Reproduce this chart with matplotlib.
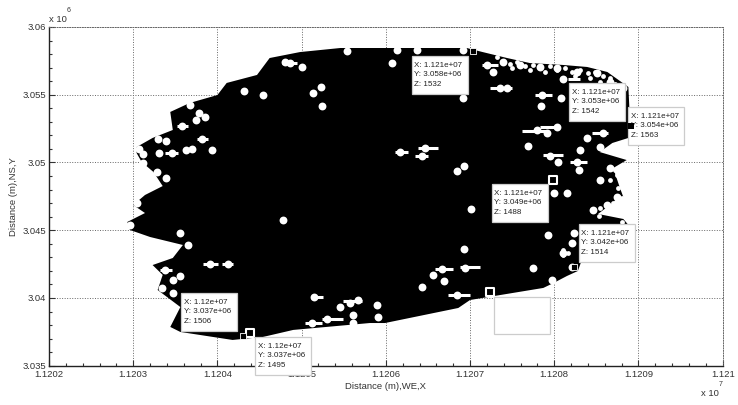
import matplotlib
matplotlib.use('Agg')
import matplotlib.pyplot as plt
from matplotlib.patches import Rectangle

plt.rcParams['font.family'] = ['Liberation Sans', 'DejaVu Sans']

# outline of the measured area (m)
outline_x = [11205810,11205460,11204980,11204620,11204470,11204110,11204000,11203670,11203440,11203470,
             11203230,11203040,11203040,11203100,11203240,11203350,11203140,11203000,11203140,11202930,
             11202960,11203200,11203590,11203470,11203230,11203350,11203290,11203560,11203440,11203560,
             11204180,11204540,11204900,11205810,11205990,11206860,11207000,11207870,11207990,11208150,
             11208280,11208370,11208660,11208880,11208820,11208520,11208660,11208820,11208780,11208700,
             11208860,11208540,11208690,11208880,11208900,11208880,11208630,11208390,11208100,11207710,
             11207440,11207150,11206960]
outline_y = [3058450,3058450,3058150,3057710,3056460,3055870,3054980,3054390,3053730,3052400,
             3051810,3051140,3050700,3050040,3049300,3048260,3047600,3046860,3046270,3045610,
             3045020,3044500,3043910,3042950,3042430,3041700,3040590,3039330,3037860,3037490,
             3036900,3037120,3037640,3038150,3038150,3039260,3039850,3040740,3041100,3041620,
             3041990,3043540,3044280,3045390,3045830,3046200,3046860,3047450,3048120,3049590,
             3050180,3050770,3051440,3051810,3052910,3055570,3056680,3057050,3057200,3057340,
             3057710,3058150,3058450]

# gaps in the coverage
gap_x = [11205540,11204800,11204860,11205000,11204320,11204540,11205140,11205230,11205240,11203670,
         11203780,11203850,11203750,11203580,11203820,11203290,11203390,11203070,11203310,11203460,
         11203630,11203700,11203940,11203120,11203120,11203280,11203390,11206070,11206130,11206370,
         11206920,11207200,11207270,11207360,11207440,11207850,11208080,11207840,11208100,11207800,
         11208030,11207910,11208390,11208580,11208540,11207690,11208310,11207950,11208040,11208270,
         11208290,11206170,11206470,11206430,11206930,11206850,11208660,11208540,11208150,11208000,
         11208750,11206920,11207390,11207590,11207830,11208030,11208270,11208510,11208660,11208820,
         11202960,11203050,11203560,11203650,11203910,11204130,11203380,11203560,11203470,11203340,
         11203470,11204780,11205150,11205460,11205570,11205670,11205300,11205120,11205610,11205610,
         11207010,11206930,11207930,11208230,11208210,11208100,11208210,11207750,11207970,11206670,
         11206560,11206690,11206940,11206430,11206850,11205900,11205910,11208460,11208630,11208750]
gap_y = [3058230,3057420,3057340,3057050,3055280,3054980,3055130,3055570,3054170,3054240,
         3053650,3053360,3053140,3052690,3051730,3051730,3051590,3050990,3050700,3050700,
         3050920,3050990,3050920,3050630,3049960,3049300,3048850,3057340,3058300,3058300,
         3058300,3057200,3056680,3055500,3055500,3054980,3054760,3054170,3056160,3052400,
         3052620,3052180,3051810,3052180,3051140,3051220,3050920,3050480,3050040,3050040,
         3049450,3050770,3051070,3050480,3049740,3049370,3049590,3048710,3047750,3047750,
         3047450,3054760,3057420,3057200,3057050,3056970,3056680,3056600,3055940,3055500,
         3045390,3047010,3044800,3043910,3042510,3042510,3042060,3041620,3041330,3040740,
         3040370,3045750,3040070,3039330,3039630,3039850,3038450,3038150,3038740,3038150,
         3046570,3043610,3044650,3044800,3044060,3043320,3042290,3042210,3041330,3042140,
         3041700,3041250,3042210,3040810,3040220,3039480,3038600,3046490,3046860,3047010]

# smaller specks along the north-east and east edge
speck_x = [11207320,11207390,11207470,11207560,11207650,11207750,11207830,11207950,11208030,11208130,
           11208210,11208310,11208400,11208480,11208580,11208660,11208540,11208720,11208800,11208420,
           11208250,11207890,11207710,11207500,11208800,11208700,11208630,11208540,11208460,11208530,
           11208800,11208210,11208100,11208100,11208160,11208660,11208760,11208720,11208750]
speck_y = [3057790,3057420,3057270,3057420,3057120,3057200,3056970,3057120,3056830,3056970,
           3056680,3056830,3056600,3056680,3056380,3056240,3055940,3055790,3055500,3056240,
           3056380,3056680,3056830,3056970,3047380,3047010,3046790,3046640,3046490,3046050,
           3045610,3044060,3043540,3043170,3043320,3048710,3048120,3049450,3049080]

# horizontal streaks in the gaps
streak_x0 = [11207830,11207620,11208450,11207870,11208190,11206380,11206110,11206350,11207240,11207770,
             11208160,11207140,11204770,11203520,11203760,11203380,11203830,11204050,11206580,11206880,
             11206740,11205040,11205240,11205490,11205120,11203320]
streak_x1 = [11208070,11207930,11208640,11208100,11208390,11206620,11206260,11206500,11207500,11207970,
             11208310,11207330,11204950,11203650,11203890,11203530,11204010,11204190,11206800,11207120,
             11207000,11205240,11205490,11205720,11205250,11203460]
streak_y = [3052620,3052320,3052180,3050550,3050040,3051070,3050770,3050480,3055500,3054980,
            3056160,3057200,3057340,3052690,3051730,3050700,3042510,3042510,3042140,3042290,
            3040220,3038150,3038450,3039780,3040070,3042060]

# data cursors
open_x = [11207990,11207240,11204390]
open_y = [3048710,3040440,3037410]
solid_x = [11207040,11208910,11204300,11208230]
solid_y = [3058230,3052690,3037190,3042290]

tip_x = [11206310,11208180,11208880,11207260,11208290,11203570,11204450]
tip_y = [3057860,3055870,3054100,3048410,3045460,3040370,3037120]
tip_xval = ['1.121e+07','1.121e+07','1.121e+07','1.121e+07','1.121e+07','1.12e+07','1.12e+07']
tip_yval = ['3.058e+06','3.053e+06','3.054e+06','3.049e+06','3.042e+06','3.037e+06','3.037e+06']
tip_zval = ['1532','1542','1563','1488','1514','1506','1495']
empty_x = 11207280
empty_y = 3040070

xticks = [11202000,11203000,11204000,11205000,11206000,11207000,11208000,11209000,11210000]
xlabels = ['1.1202','1.1203','1.1204','1.1205','1.1206','1.1207','1.1208','1.1209','1.121']
yticks = [3035000,3040000,3045000,3050000,3055000,3060000]
ylabels = ['3.035','3.04','3.045','3.05','3.055','3.06']

W, H = 738, 405
fig = plt.figure(figsize=(W/100, H/100), dpi=100)
ax = fig.add_axes([49/W, (H-365.7)/H, 673.7/W, 338.7/H])
ax.set_xlim(11202000, 11210000)
ax.set_ylim(3035000, 3060000)

ax.fill(outline_x, outline_y, color='black', lw=0, zorder=2)
ax.scatter(gap_x, gap_y, s=32, c='white', lw=0, zorder=3)
ax.scatter(speck_x, speck_y, s=12, c='white', lw=0, zorder=3)
ax.hlines(streak_y, streak_x0, streak_x1, colors='white', lw=2.2, zorder=3)
ax.scatter(open_x, open_y, s=38, marker='s', facecolors='black', edgecolors='white', lw=1.5, zorder=4)
ax.scatter(solid_x, solid_y, s=24, marker='s', c='black', edgecolors='white', lw=0.6, zorder=4)

# grid, ticks
ax.set_xticks(xticks)
ax.set_xticklabels(xlabels)
ax.set_yticks(yticks)
ax.set_yticklabels(ylabels)
ax.set_xticks(range(11202000, 11210000, 200), minor=True)
ax.set_yticks(range(3035000, 3060000, 1000), minor=True)
ax.grid(True, which='major', color='#666666', ls=(0, (1, 1.6)), lw=0.7, zorder=1)
ax.set_axisbelow(True)
ax.tick_params(which='major', direction='in', length=4, width=0.8, color='#333333',
               labelsize=6.8, labelcolor='#333333', pad=2)
ax.tick_params(which='minor', direction='in', length=2, width=0.8, color='#333333')
ax.tick_params(axis='x', which='major', pad=3)
for s in ['left', 'bottom']:
    ax.spines[s].set_color('#222222')
    ax.spines[s].set_linewidth(1.0)
for s in ['top', 'right']:
    ax.spines[s].set_color('#666666')
    ax.spines[s].set_linestyle((0, (1, 1.6)))
    ax.spines[s].set_linewidth(0.7)

ax.set_xlabel('Distance (m),WE,X', fontsize=6.8, color='#333333', labelpad=2)
ax.set_ylabel('Distance (m),NS,Y', fontsize=6.8, color='#333333', labelpad=3)

# datatips: white box with the cursor values
box_w = 665
box_h = 2800
for x, y, xv, yv, zv in zip(tip_x, tip_y, tip_xval, tip_yval, tip_zval):
    ax.add_patch(Rectangle((x, y-box_h), box_w, box_h, fc='white', ec='#cccccc', lw=0.9,
                           zorder=5, clip_on=False))
    ax.text(x+30, y-box_h/2, 'X: %s\nY: %s\nZ: %s' % (xv, yv, zv), fontsize=5.8, color='#222222',
            va='center', ha='left', linespacing=1.42, zorder=6, clip_on=False)
ax.add_patch(Rectangle((empty_x, empty_y-2730), box_w, 2730, fc='white', ec='#cccccc', lw=0.9, zorder=5))

# the marker that sits on top of its own datatip
ax.scatter(solid_x[1], solid_y[1], s=24, marker='s', c='black', lw=0, zorder=7, clip_on=False)

# axis multipliers
fig.text(49/W, 1-19/H, 'x 10', fontsize=6.8, color='#333333', va='center', ha='left')
fig.text(69/W, 1-10/H, '6', fontsize=5, color='#333333', va='center', ha='center')
fig.text(701/W, 1-394/H, 'x 10', fontsize=6.8, color='#333333', va='center', ha='left')
fig.text(721/W, 1-384/H, '7', fontsize=5, color='#333333', va='center', ha='center')

fig.savefig('out.png', dpi=100)
